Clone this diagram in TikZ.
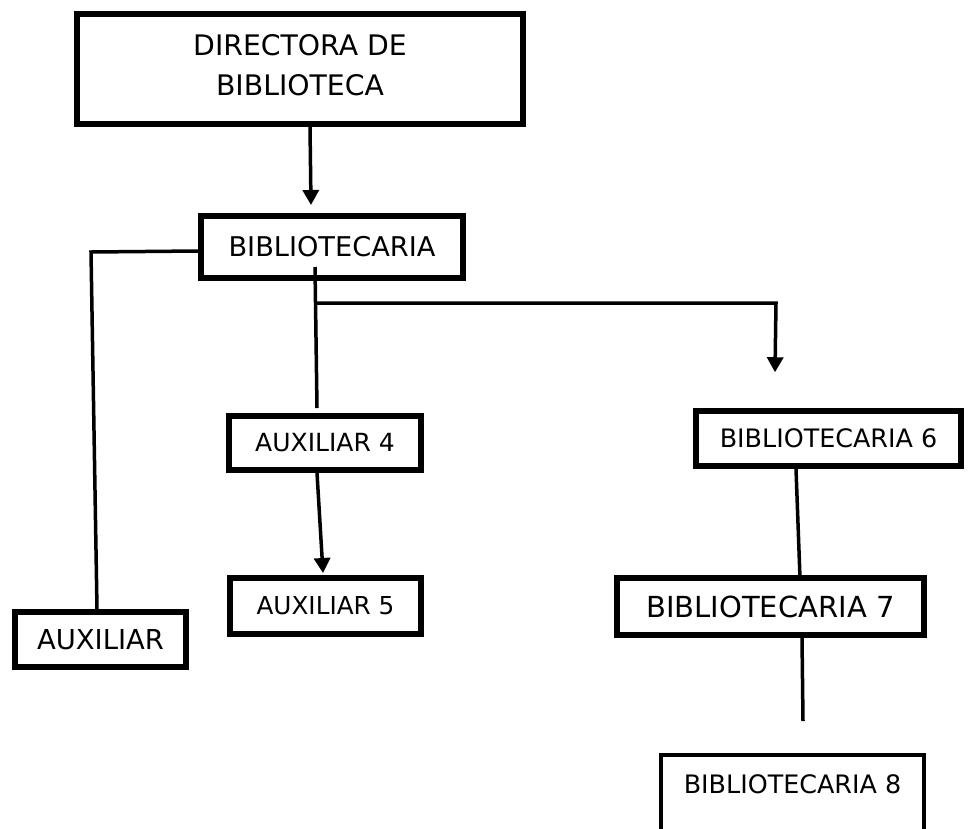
\documentclass[tikz,border=0pt]{standalone}
\usepackage{fontspec}
\setmainfont{DejaVu Sans}
\usetikzlibrary{arrows.meta}
\begin{document}
\begin{tikzpicture}[x=1pt,y=-1pt,
  box/.style={draw, rectangle, line width=6pt, inner sep=0pt, align=center},
  link/.style={line width=3.5pt},
  arrowlink/.style={link, -{Triangle[width=16pt,length=15pt]}},
]
\useasboundingbox (0,0) rectangle (972,828);
\clip (0,0) rectangle (972,828);

% boxes
\node[box, minimum width=446pt, minimum height=110pt, text depth=8pt,
      font=\fontsize{28.3}{40}\selectfont] (dir) at (300,69) {DIRECTORA DE\\BIBLIOTECA};
\node[box, minimum width=262pt, minimum height=62pt,
      font=\fontsize{27.2}{32}\selectfont] (bib) at (332,247) {BIBLIOTECARIA};
\node[box, minimum width=192pt, minimum height=54pt,
      font=\fontsize{25}{30}\selectfont] (aux4) at (325,443) {AUXILIAR 4};
\node[box, minimum width=191pt, minimum height=56pt,
      font=\fontsize{24.7}{30}\selectfont] (aux5) at (325.5,606) {AUXILIAR 5};
\node[box, line width=5.5pt, minimum width=171pt, minimum height=55pt,
      font=\fontsize{27.4}{32}\selectfont] (aux) at (100.5,639.5) {AUXILIAR};
\node[box, line width=5.5pt, minimum width=265pt, minimum height=55pt,
      font=\fontsize{25.4}{30}\selectfont] (b6) at (828.5,438.5) {BIBLIOTECARIA 6};
\node[box, line width=5.5pt, minimum width=307pt, minimum height=57pt,
      font=\fontsize{29}{34}\selectfont] (b7) at (770.5,606.5) {BIBLIOTECARIA 7};
\node[box, line width=4pt, anchor=north, minimum width=263pt, inner ysep=17pt,
      text height=21pt, text depth=45pt,
      font=\fontsize{25.4}{30}\selectfont] (b8) at (792.5,753) {BIBLIOTECARIA 8};

% connector helper points
\coordinate (bend) at (91,252);
\coordinate (drop) at (315,267);
\coordinate (fork) at (315.4,303);
\coordinate (turn) at (776,303);
\coordinate (tail8) at (803,721);

% connectors
\draw[arrowlink] ([xshift=10pt]dir.south) -- ([xshift=-21pt,yshift=8pt]bib.north);
\draw[link] ([yshift=-4pt]bib.west) -- (bend) -- ([xshift=-3.5pt]aux.north);
\draw[link] (drop) -- ([xshift=-8pt,yshift=5pt]aux4.north);
\draw[arrowlink] (fork) -- (turn) -- ([xshift=-53.5pt,yshift=36pt]b6.north);
\draw[arrowlink] ([xshift=-8pt]aux4.south) -- ([xshift=-2.5pt,yshift=2pt]aux5.north);
\draw[link] ([xshift=-32.5pt]b6.south) -- ([xshift=29.5pt,yshift=-3pt]b7.north);
\draw[link] ([xshift=31.5pt]b7.south) -- (tail8);
\end{tikzpicture}
\end{document}
